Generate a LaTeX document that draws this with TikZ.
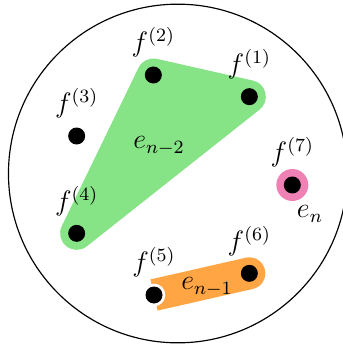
\documentclass[tikz,border=0pt]{standalone}
\usepackage{amsmath}
\usetikzlibrary{positioning,backgrounds}
\definecolor{hullG}{HTML}{86E386}
\definecolor{hullO}{HTML}{FFA544}
\definecolor{hullP}{HTML}{F081B5}
\tikzset{
  dot/.style={circle, fill=black, inner sep=0pt, minimum size=2.55mm},
  flab/.style={font=\large, inner sep=2pt},
  elab/.style={font=\large},
  edgeG/.style={draw=hullG, fill=hullG, line width=4.95mm, line join=round},
  edgeO/.style={draw=hullO, line width=4.8mm, line cap=butt},
}

\begin{document}
\begin{tikzpicture}[x=1cm,y=1cm]
\useasboundingbox (0,0) rectangle (5.13,5.22);

% ===================== the ground set ===========================
\draw[line width=0.5pt] (2.667,2.6175) circle (2.54);

\node[dot] (f1) at (3.74,3.77)  {};
\node[dot] (f2) at (2.30,4.095) {};
\node[dot] (f3) at (1.15,3.18)  {};
\node[dot] (f4) at (1.15,1.72)  {};
\node[dot] (f5) at (2.31,0.795) {};
\node[dot] (f6) at (3.74,1.12)  {};
\node[dot] (f7) at (4.385,2.445) {};

\node[flab, above=1.5pt of f1] (l1) {$f^{(1)}$};
\node[flab, above=1.5pt of f2] (l2) {$f^{(2)}$};
\node[flab, above=1.5pt of f3] (l3) {$f^{(3)}$};
\node[flab, above=1.5pt of f4] (l4) {$f^{(4)}$};
\node[flab, above=1.5pt of f5] (l5) {$f^{(5)}$};
\node[flab, above=1.5pt of f6] (l6) {$f^{(6)}$};
\node[flab, above=1.5pt of f7] (l7) {$f^{(7)}$};

% ===================== hyperedges ===============================
\begin{scope}[on background layer]
  \draw[edgeG] (f1.center) -- (f2.center) -- (f4.center) -- cycle;
  \draw[edgeO] (f5.center) -- (f6.center);
  \fill[hullO] (f6.center) circle (2.4mm);
  \fill[white] (f5.center) circle (1.7mm);
  \fill[hullP] (f7.center) circle (2.4mm);
\end{scope}

\node[elab] (e2) at (2.385,3.03) {$e_{n-2}$};
\node[elab] (e1) at (3.105,0.915) {$e_{n-1}$};
\node[elab] (e0) at (4.65,2.01) {$e_n$};

\end{tikzpicture}
\end{document}
